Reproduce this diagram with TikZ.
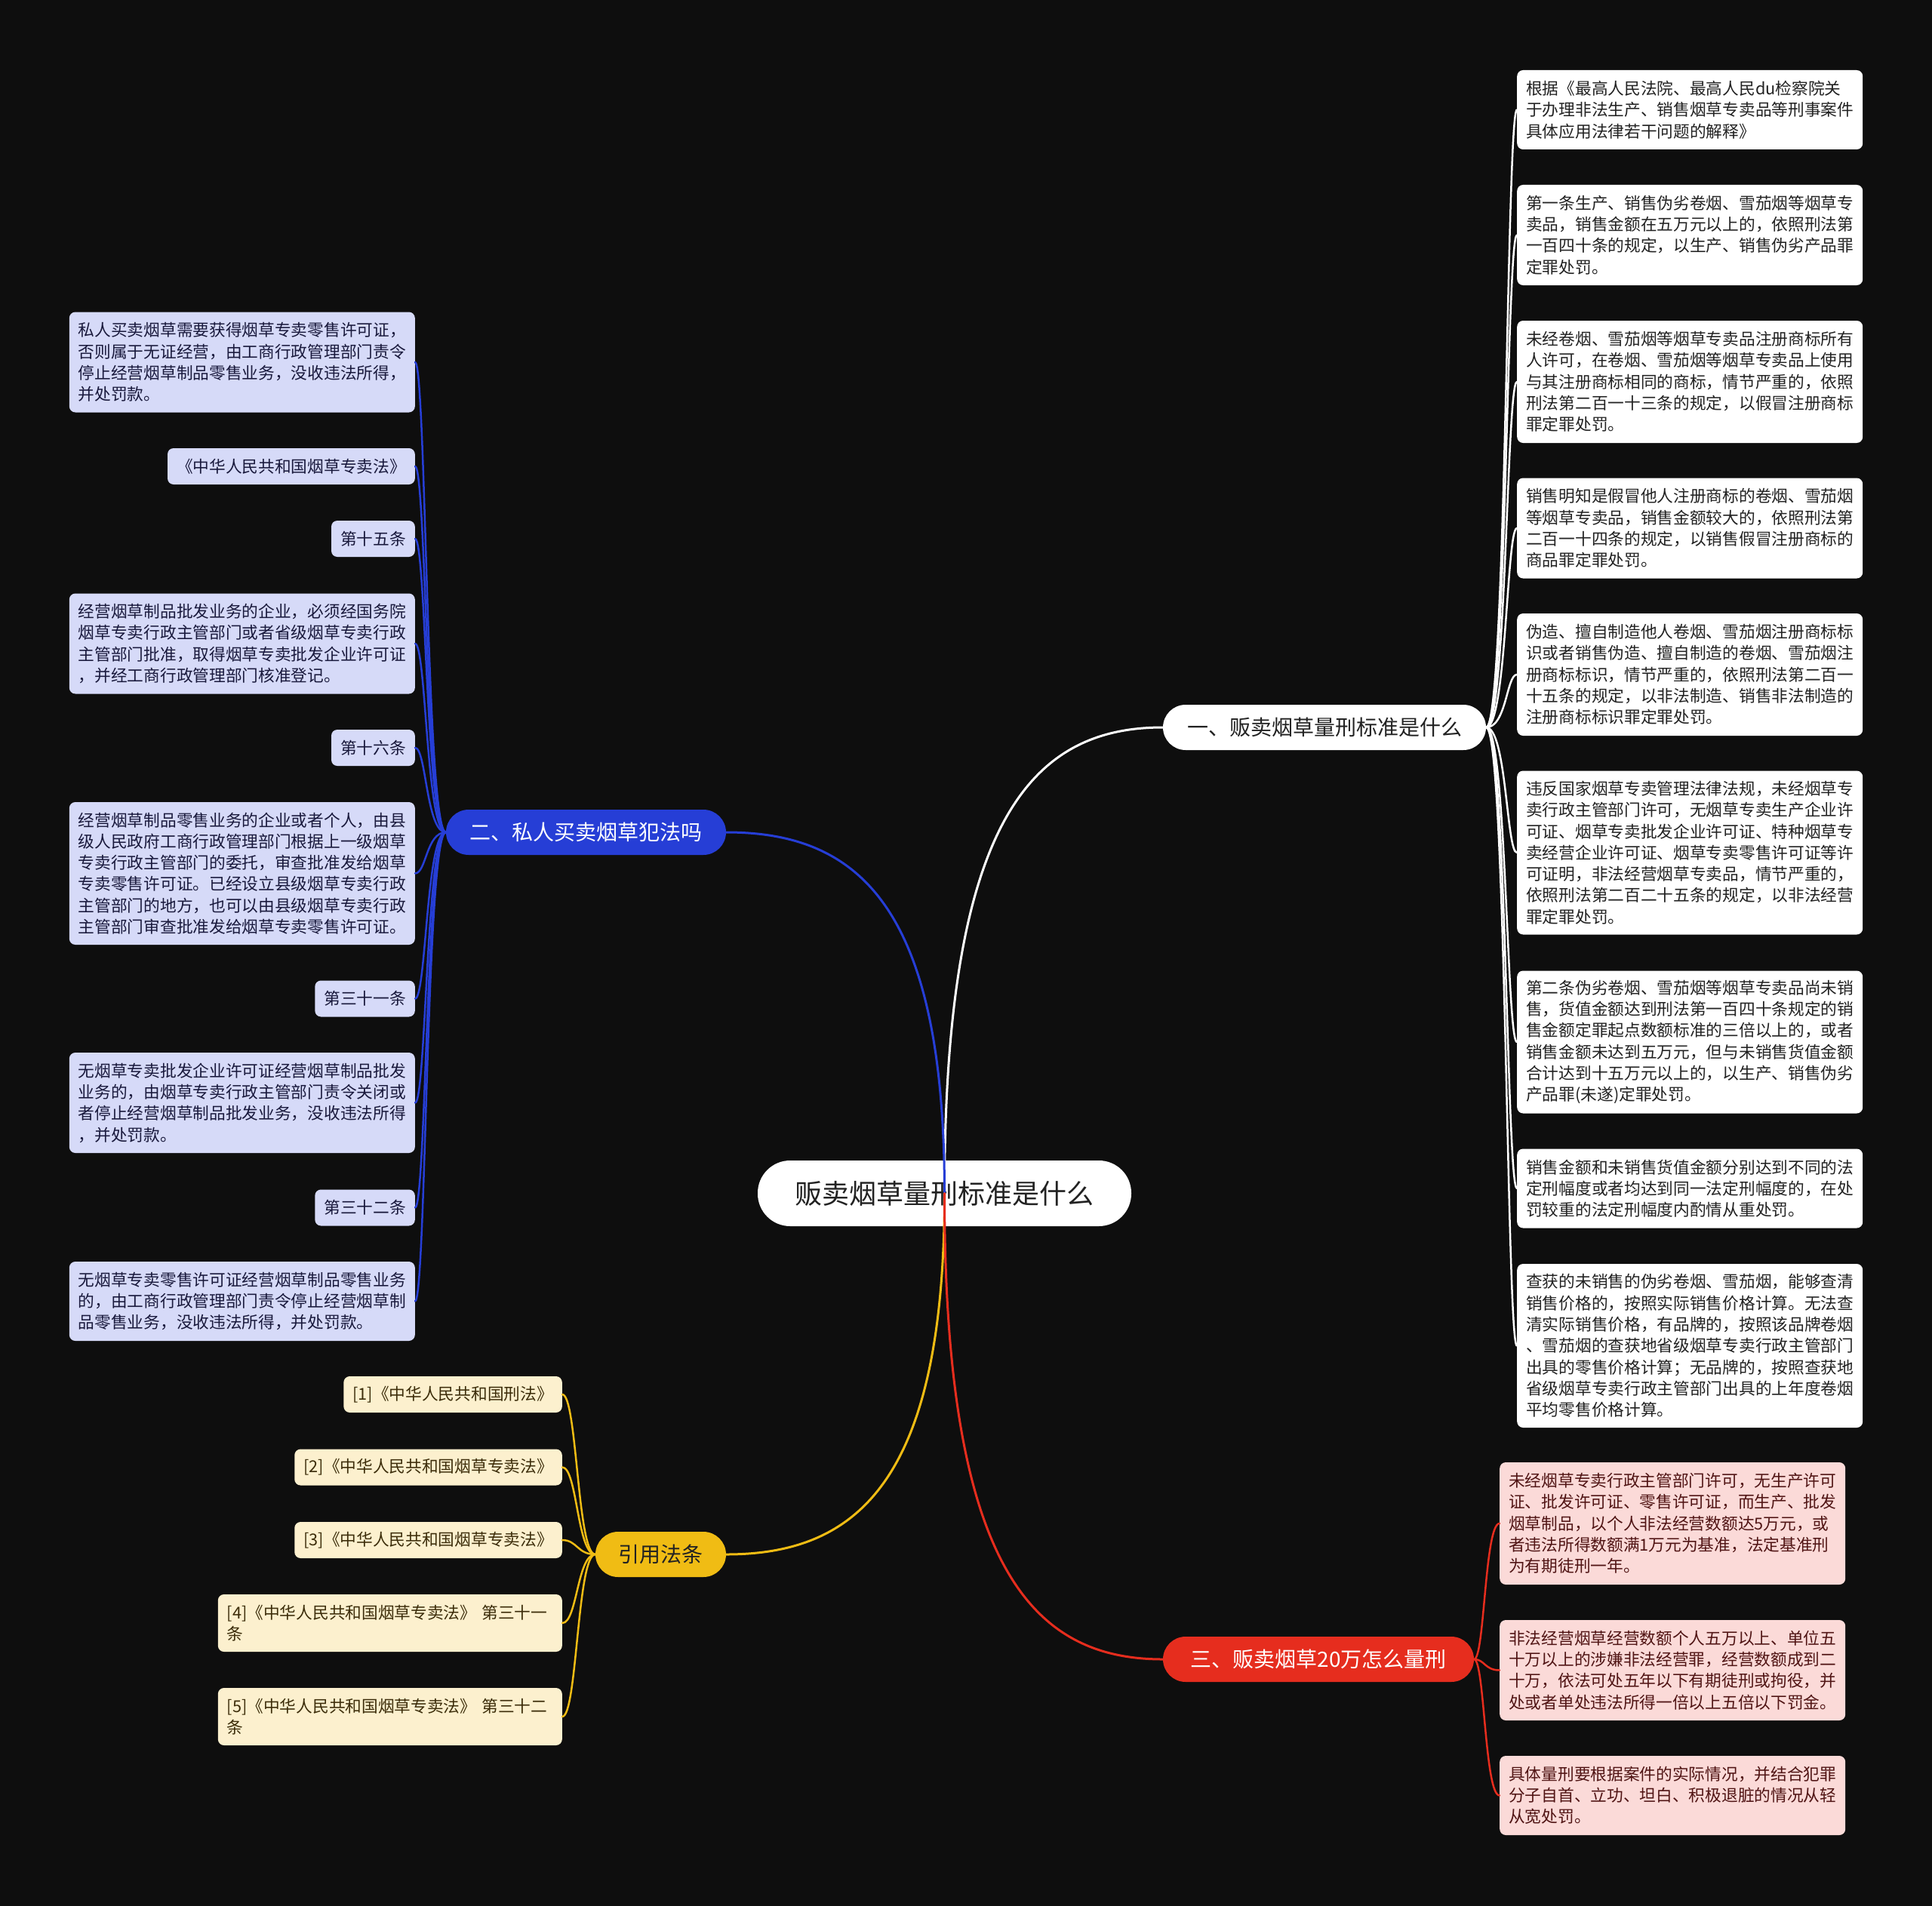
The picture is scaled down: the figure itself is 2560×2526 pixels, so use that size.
\documentclass[tikz,border=0pt]{standalone}
\usepackage{fontspec}
\setmainfont{Noto Sans CJK SC}
\usetikzlibrary{calc}
\definecolor{bg}{RGB}{14,14,14}
\definecolor{bblue}{RGB}{38,62,214}
\definecolor{bred}{RGB}{230,45,30}
\definecolor{byellow}{RGB}{240,188,20}
\definecolor{fpink}{RGB}{251,218,216}
\definecolor{tpink}{RGB}{80,20,20}
\definecolor{flav}{RGB}{214,218,248}
\definecolor{tlav}{RGB}{25,25,60}
\definecolor{fcream}{RGB}{252,240,206}
\definecolor{tcream}{RGB}{60,45,10}
\definecolor{tdark}{RGB}{34,34,34}
\newcommand\mmR[4]{\draw[#1] (#2.east) .. controls ($(#2.east)+(#4,0)$) and ($(#3.west -| #2.east)+(#4,0)$) .. (#3.west);}
\newcommand\mmL[4]{\draw[#1] (#2.west) .. controls ($(#2.west)+(-#4,0)$) and ($(#3.east -| #2.west)+(-#4,0)$) .. (#3.east);}
\begin{document}
\begin{tikzpicture}[x=1pt,y=-1pt,
  leaf/.style={rounded corners=8pt, inner xsep=12pt, inner ysep=4pt, align=left,
    font=\fontsize{21.7pt}{28.3pt}\selectfont},
  wleaf/.style={leaf, fill=white, text=tdark},
  bleaf/.style={leaf, fill=flav, text=tlav},
  yleaf/.style={leaf, fill=fcream, text=tcream},
  pleaf/.style={leaf, fill=fpink, text=tpink},
  nA/.style={minimum height=48pt},
  nB/.style={minimum height=76pt},
  nC/.style={minimum height=105pt},
  nD/.style={minimum height=133pt},
  nE/.style={minimum height=162pt},
  nF/.style={minimum height=189pt},
  nG/.style={minimum height=217pt},
  branch/.style={rounded corners=30pt, minimum height=60pt, inner sep=0pt,
    font=\fontsize{28pt}{34pt}\selectfont},
  mainline/.style={line width=3pt, line cap=round},
  kidline/.style={line width=2.5pt, line cap=round}
]
\fill[bg] (0,0) rectangle (2560,2526);
\useasboundingbox (0,0) rectangle (2560,2526);

% root
\node[fill=white, text=tdark, rounded corners=43pt, minimum width=495pt, minimum height=87pt,
  inner sep=0pt, font=\fontsize{36pt}{40pt}\selectfont] (root) at (1251.5,1581.5) {贩卖烟草量刑标准是什么};

% branches
\node[branch, fill=white, text=tdark, minimum width=428pt] (B1) at (1755,964) {一、贩卖烟草量刑标准是什么};
\node[branch, fill=bblue, text=white, minimum width=371pt] (B2) at (776.5,1103) {二、私人买卖烟草犯法吗};
\node[branch, fill=bred, text=white, minimum width=412pt] (B3) at (1747,2199) {三、贩卖烟草20万怎么量刑};
\node[branch, fill=byellow, text=tdark, minimum width=173pt] (B4) at (875.5,2060) {引用法条};

% right leaves (branch 1)
\node[wleaf, nC, anchor=west] (R1) at (2010,145.5) {根据《最高人民法院、最高人民du检察院关\\于办理非法生产、销售烟草专卖品等刑事案件\\具体应用法律若干问题的解释》};
\node[wleaf, nD, anchor=west] (R2) at (2010,311.5) {第一条生产、销售伪劣卷烟、雪茄烟等烟草专\\卖品，销售金额在五万元以上的，依照刑法第\\一百四十条的规定，以生产、销售伪劣产品罪\\定罪处罚。};
\node[wleaf, nE, anchor=west] (R3) at (2010,506) {未经卷烟、雪茄烟等烟草专卖品注册商标所有\\人许可，在卷烟、雪茄烟等烟草专卖品上使用\\与其注册商标相同的商标，情节严重的，依照\\刑法第二百一十三条的规定，以假冒注册商标\\罪定罪处罚。};
\node[wleaf, nD, anchor=west] (R4) at (2010,700) {销售明知是假冒他人注册商标的卷烟、雪茄烟\\等烟草专卖品，销售金额较大的，依照刑法第\\二百一十四条的规定，以销售假冒注册商标的\\商品罪定罪处罚。};
\node[wleaf, nE, anchor=west] (R5) at (2010,894) {伪造、擅自制造他人卷烟、雪茄烟注册商标标\\识或者销售伪造、擅自制造的卷烟、雪茄烟注\\册商标标识，情节严重的，依照刑法第二百一\\十五条的规定，以非法制造、销售非法制造的\\注册商标标识罪定罪处罚。};
\node[wleaf, nG, anchor=west] (R6) at (2010,1130) {违反国家烟草专卖管理法律法规，未经烟草专\\卖行政主管部门许可，无烟草专卖生产企业许\\可证、烟草专卖批发企业许可证、特种烟草专\\卖经营企业许可证、烟草专卖零售许可证等许\\可证明，非法经营烟草专卖品，情节严重的，\\依照刑法第二百二十五条的规定，以非法经营\\罪定罪处罚。};
\node[wleaf, nF, anchor=west] (R7) at (2010,1381) {第二条伪劣卷烟、雪茄烟等烟草专卖品尚未销\\售，货值金额达到刑法第一百四十条规定的销\\售金额定罪起点数额标准的三倍以上的，或者\\销售金额未达到五万元，但与未销售货值金额\\合计达到十五万元以上的，以生产、销售伪劣\\产品罪(未遂)定罪处罚。};
\node[wleaf, nC, anchor=west] (R8) at (2010,1575) {销售金额和未销售货值金额分别达到不同的法\\定刑幅度或者均达到同一法定刑幅度的，在处\\罚较重的法定刑幅度内酌情从重处罚。};
\node[wleaf, nG, anchor=west] (R9) at (2010,1783.5) {查获的未销售的伪劣卷烟、雪茄烟，能够查清\\销售价格的，按照实际销售价格计算。无法查\\清实际销售价格，有品牌的，按照该品牌卷烟\\、雪茄烟的查获地省级烟草专卖行政主管部门\\出具的零售价格计算；无品牌的，按照查获地\\省级烟草专卖行政主管部门出具的上年度卷烟\\平均零售价格计算。};

% pink leaves (branch 3)
\node[pleaf, nE, anchor=west] (P1) at (1987,2019) {未经烟草专卖行政主管部门许可，无生产许可\\证、批发许可证、零售许可证，而生产、批发\\烟草制品，以个人非法经营数额达5万元，或\\者违法所得数额满1万元为基准，法定基准刑\\为有期徒刑一年。};
\node[pleaf, nD, anchor=west] (P2) at (1987,2213.5) {非法经营烟草经营数额个人五万以上、单位五\\十万以上的涉嫌非法经营罪，经营数额成到二\\十万，依法可处五年以下有期徒刑或拘役，并\\处或者单处违法所得一倍以上五倍以下罚金。};
\node[pleaf, nC, anchor=west] (P3) at (1987,2379.5) {具体量刑要根据案件的实际情况，并结合犯罪\\分子自首、立功、坦白、积极退脏的情况从轻\\从宽处罚。};

% left leaves (branch 2)
\node[bleaf, nD, anchor=east] (L1) at (550,480) {私人买卖烟草需要获得烟草专卖零售许可证，\\否则属于无证经营，由工商行政管理部门责令\\停止经营烟草制品零售业务，没收违法所得，\\并处罚款。};
\node[bleaf, nA, anchor=east] (L2) at (550,618) {《中华人民共和国烟草专卖法》};
\node[bleaf, nA, anchor=east] (L3) at (550,714) {第十五条};
\node[bleaf, nD, anchor=east] (L4) at (550,853) {经营烟草制品批发业务的企业，必须经国务院\\烟草专卖行政主管部门或者省级烟草专卖行政\\主管部门批准，取得烟草专卖批发企业许可证\\，并经工商行政管理部门核准登记。};
\node[bleaf, nA, anchor=east] (L5) at (550,991) {第十六条};
\node[bleaf, nF, anchor=east] (L6) at (550,1157.5) {经营烟草制品零售业务的企业或者个人，由县\\级人民政府工商行政管理部门根据上一级烟草\\专卖行政主管部门的委托，审查批准发给烟草\\专卖零售许可证。已经设立县级烟草专卖行政\\主管部门的地方，也可以由县级烟草专卖行政\\主管部门审查批准发给烟草专卖零售许可证。};
\node[bleaf, nA, anchor=east] (L7) at (550,1323.5) {第三十一条};
\node[bleaf, nD, anchor=east] (L8) at (550,1461.5) {无烟草专卖批发企业许可证经营烟草制品批发\\业务的，由烟草专卖行政主管部门责令关闭或\\者停止经营烟草制品批发业务，没收违法所得\\，并处罚款。};
\node[bleaf, nA, anchor=east] (L9) at (550,1600.5) {第三十二条};
\node[bleaf, nC, anchor=east] (L10) at (550,1724.5) {无烟草专卖零售许可证经营烟草制品零售业务\\的，由工商行政管理部门责令停止经营烟草制\\品零售业务，没收违法所得，并处罚款。};

% yellow leaves (branch 4)
\node[yleaf, nA, anchor=east] (Y1) at (745,1848) {[1]《中华人民共和国刑法》};
\node[yleaf, nA, anchor=east] (Y2) at (745,1944.5) {[2]《中华人民共和国烟草专卖法》};
\node[yleaf, nA, anchor=east] (Y3) at (745,2041) {[3]《中华人民共和国烟草专卖法》};
\node[yleaf, nB, anchor=east, text width=432pt] (Y4) at (745,2151) {[4]《中华人民共和国烟草专卖法》 第三十一\\条};
\node[yleaf, nB, anchor=east, text width=432pt] (Y5) at (745,2275) {[5]《中华人民共和国烟草专卖法》 第三十二\\条};

% main connectors (drawn over the root, from its centre)
\draw[mainline, white] (root.center) .. controls (1251.5,1087) and (1367,964) .. (B1.west);
\draw[mainline, bblue] (root.center) .. controls (1251.5,1198) and (1135,1103) .. (B2.east);
\draw[mainline, byellow] (root.center) .. controls (1251.5,1964) and (1135,2060) .. (B4.east);
\draw[mainline, bred] (root.center) .. controls (1251.5,2076) and (1367,2199) .. (B3.west);

% child connectors
\foreach \k in {R1,R2,R3,R4,R5,R6,R7,R8,R9}{\mmR{kidline, white}{B1}{\k}{27}}
\foreach \k in {P1,P2,P3}{\mmR{kidline, bred}{B3}{\k}{14}}
\foreach \k in {L1,L2,L3,L4,L5,L6,L7,L8,L9,L10}{\mmL{kidline, bblue}{B2}{\k}{26}}
\foreach \k in {Y1,Y2,Y3,Y4,Y5}{\mmL{kidline, byellow}{B4}{\k}{24}}
\end{tikzpicture}
\end{document}
